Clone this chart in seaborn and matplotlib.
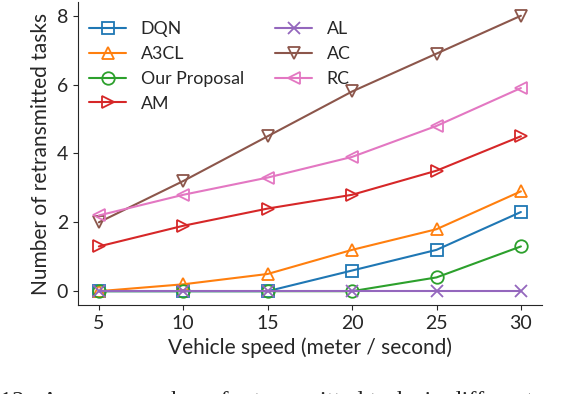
import numpy as np
import pandas as pd
import matplotlib
matplotlib.use("Agg")
import matplotlib.pyplot as plt
import seaborn as sns

# Data
speed = [5, 10, 15, 20, 25, 30]
dqn = [0, 0, 0, 0.6, 1.2, 2.3]
a3cl = [0, 0.2, 0.5, 1.2, 1.8, 2.9]
proposal = [0, 0, 0, 0, 0.4, 1.3]
am = [1.3, 1.9, 2.4, 2.8, 3.5, 4.5]
al = [0, 0, 0, 0, 0, 0]
ac = [2.0, 3.2, 4.5, 5.8, 6.9, 8.0]
rc = [2.2, 2.8, 3.3, 3.9, 4.8, 5.9]

names = ["DQN", "A3CL", "Our Proposal", "AM", "AL", "AC", "RC"]
series = [dqn, a3cl, proposal, am, al, ac, rc]
markers = ["s", "^", "o", ">", "x", "v", "<"]

sns.set_style("ticks")
plt.rcParams["font.family"] = ["Lato", "DejaVu Sans"]

palette = sns.color_palette("tab10")

fig, ax = plt.subplots(figsize=(5.76, 3.94), dpi=100)
fig.subplots_adjust(left=0.135, right=0.941, top=0.995, bottom=0.226)

for i, (name, vals) in enumerate(zip(names, series)):
    c = palette[i]
    sns.lineplot(x=speed, y=vals, ax=ax, color=c, label=name,
                 marker=markers[i], markersize=9, linewidth=1.5,
                 markerfacecolor="none", markeredgecolor=c,
                 markeredgewidth=1.3)

ax.set_xticks(speed)
ax.set_yticks([0, 2, 4, 6, 8])
ax.tick_params(labelsize=14)
ax.set_xlabel("Vehicle speed (meter / second)", fontsize=15)
ax.set_ylabel("Number of retransmitted tasks", fontsize=15)
ax.legend(ncol=2, frameon=False, loc="upper left", fontsize=12.8,
          bbox_to_anchor=(-0.01, 0.99), columnspacing=1.75,
          handlelength=2.1, labelspacing=0.5)
sns.despine(ax=ax)

# caption of the source figure, clipped by the bottom edge
fig.text(0.0, -0.018, "12.  Average number of retransmitted tasks in different",
         fontsize=17.5, family="Liberation Serif", va="center", ha="left")

fig.savefig("out.png", dpi=100)
